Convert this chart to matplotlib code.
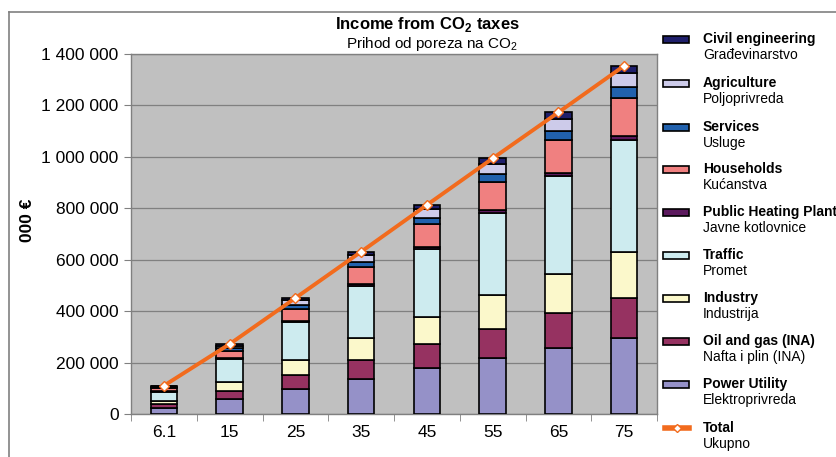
import matplotlib
matplotlib.use("Agg")
import matplotlib.pyplot as plt
from matplotlib.patches import Rectangle
from matplotlib.lines import Line2D
from matplotlib.ticker import FuncFormatter
import numpy as np

plt.rcParams['font.family'] = ['Liberation Sans', 'DejaVu Sans']
plt.rcParams['mathtext.fontset'] = 'custom'
plt.rcParams['mathtext.rm'] = 'Liberation Sans'
plt.rcParams['mathtext.bf'] = 'Liberation Sans:bold'

# tax rate (€/t CO2) on the x axis
rates = ['6.1', '15', '25', '35', '45', '55', '65', '75']

# income per sector, 000 €  (bottom -> top of the stack)
power_utility = [24000, 59000, 99000, 138000, 178000, 217000, 257000, 296000]
oil_gas = [13000, 31000, 52000, 72000, 93000, 114000, 134000, 155000]
industry = [15000, 36000, 60000, 84000, 107000, 131000, 155000, 179000]
traffic = [35000, 87000, 145000, 203000, 262000, 320000, 378000, 436000]
heating_plant = [1200, 3000, 5000, 7000, 9000, 11000, 13000, 15000]
households = [12000, 30000, 49000, 69000, 89000, 108000, 128000, 148000]
services = [3500, 9000, 14000, 20000, 26000, 32000, 37000, 43000]
agriculture = [4400, 11000, 18000, 25000, 32000, 40000, 47000, 54000]
civil_eng = [2300, 6000, 9000, 13000, 17000, 21000, 24000, 28000]
total = [110000, 272000, 451000, 631000, 813000, 994000, 1173000, 1354000]

series = [
    (power_utility, 'Power Utility', 'Elektroprivreda', '#9591c8'),
    (oil_gas, 'Oil and gas (INA)', 'Nafta i plin (INA)', '#963261'),
    (industry, 'Industry', 'Industrija', '#fbf8cb'),
    (traffic, 'Traffic', 'Promet', '#cdebef'),
    (heating_plant, 'Public Heating Plant', 'Javne kotlovnice', '#5c1a5e'),
    (households, 'Households', 'Kućanstva', '#f08080'),
    (services, 'Services', 'Usluge', '#2161ad'),
    (agriculture, 'Agriculture', 'Poljoprivreda', '#cdcbea'),
    (civil_eng, 'Civil engineering', 'Građevinarstvo', '#1f1f6b'),
]
line_color = '#f26b1d'

W, H = 836, 457
fig = plt.figure(figsize=(W / 100, H / 100), dpi=100)
ax = fig.add_axes([131 / W, 1 - 414 / H, (657 - 131) / W, (414 - 54) / H])
ax.set_facecolor('#c0c0c0')

x = np.arange(len(rates))
bottom = np.zeros(len(rates))
for vals, en, hr, col in series:
    ax.bar(x, vals, width=0.4, bottom=bottom, color=col, edgecolor='black',
           linewidth=1.2, zorder=3)
    bottom += np.array(vals)

ax.plot(x, total, color=line_color, linewidth=2.8, marker='D', markersize=5,
        markerfacecolor='white', markeredgecolor=line_color, markeredgewidth=1,
        zorder=4)

ax.set_xlim(-0.5, len(rates) - 0.5)
ax.set_ylim(0, 1400000)
ax.set_yticks(np.arange(0, 1400001, 200000))
ax.yaxis.set_major_formatter(FuncFormatter(lambda v, p: f'{int(v):,}'.replace(',', ' ')))
ax.set_xticks(x)
ax.set_xticklabels(rates)
ax.set_xticks(np.arange(-0.5, len(rates), 1), minor=True)
ax.tick_params(axis='x', which='major', length=0, labelsize=12.5, pad=8)
ax.tick_params(axis='x', which='minor', length=5, color='#808080', direction='out')
ax.tick_params(axis='y', length=5, color='#808080', labelsize=12.5, pad=4)
ax.grid(axis='y', color='#808080', linewidth=0.9, zorder=1)
ax.set_axisbelow(True)
for s in ax.spines.values():
    s.set_color('#808080')
    s.set_linewidth(1)

fig.text(28 / W, 1 - 220 / H, '000 €', rotation=90, fontsize=12.5, fontweight='bold',
         ha='center', va='center')

fig.text(427 / W, 1 - 25 / H, r'Income from CO$_\mathbf{2}$ taxes', fontsize=12,
         fontweight='bold', ha='center', va='center')
fig.text(432 / W, 1 - 44 / H, r'Prihod od poreza na CO$_2$', fontsize=11,
         ha='center', va='center')

# legend drawn by hand (bold english + croatian second line)
leg_y = [384, 341, 298, 255, 212, 169, 127, 83, 39]
for (vals, en, hr, col), yy in zip(series, leg_y):
    fig.patches.append(Rectangle((663 / W, 1 - (yy + 4) / H), 26 / W, 7 / H,
                                 facecolor=col, edgecolor='black', linewidth=1.2,
                                 transform=fig.transFigure))
    fig.text(703 / W, 1 - yy / H, en, fontsize=10, fontweight='bold', va='center')
    fig.text(703 / W, 1 - (yy + 16) / H, hr, fontsize=10, va='center')

yy = 428
fig.lines.append(Line2D([665 / W, 689 / W], [1 - yy / H, 1 - yy / H], color=line_color,
                        linewidth=4, transform=fig.transFigure))
fig.lines.append(Line2D([677 / W], [1 - yy / H], marker='D', markersize=4,
                        markerfacecolor='white', markeredgecolor=line_color,
                        transform=fig.transFigure))
fig.text(703 / W, 1 - yy / H, 'Total', fontsize=10, fontweight='bold', va='center')
fig.text(703 / W, 1 - (yy + 16) / H, 'Ukupno', fontsize=10, va='center')

# outer chart border (only top and left are visible)
fig.lines.append(Line2D([9 / W, 1], [1 - 12 / H, 1 - 12 / H], color='#808080',
                        linewidth=1.2, transform=fig.transFigure))
fig.lines.append(Line2D([9 / W, 9 / W], [0, 1 - 12 / H], color='#808080',
                        linewidth=1.2, transform=fig.transFigure))

fig.savefig('out.png', dpi=100)
